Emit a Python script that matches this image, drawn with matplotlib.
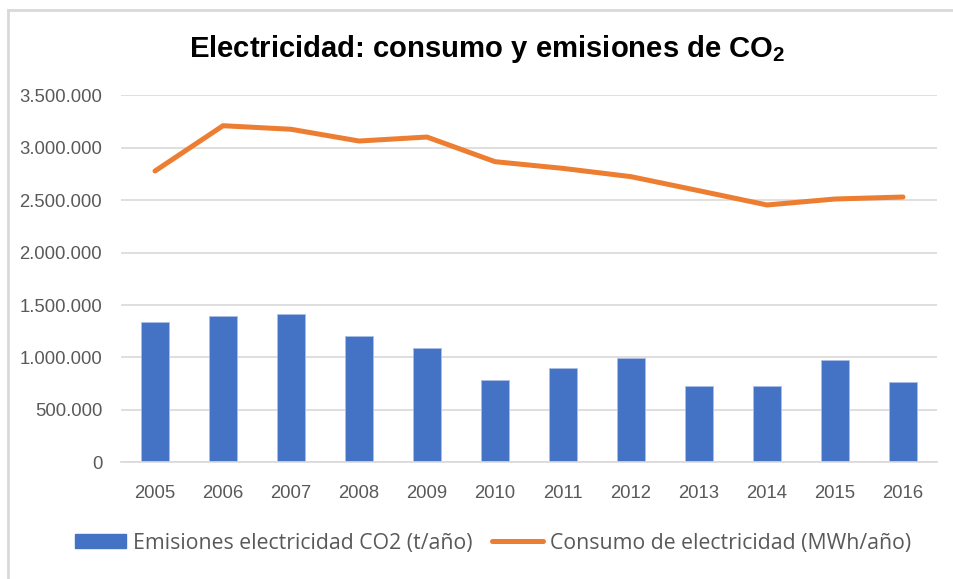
import matplotlib
matplotlib.use("Agg")
import matplotlib.pyplot as plt
from matplotlib.ticker import FuncFormatter, MultipleLocator
from matplotlib.lines import Line2D
from matplotlib.patches import Patch

years = ["2005", "2006", "2007", "2008", "2009", "2010", "2011", "2012", "2013", "2014", "2015", "2016"]
emisiones = [1338000, 1395000, 1414000, 1204000, 1090000, 785000, 902000, 998000, 730000, 730000, 979000, 769000]
consumo = [2778000, 3210000, 3176000, 3064000, 3102000, 2867000, 2803000, 2724000, 2590000, 2454000, 2511000, 2530000]

label_emis = "Emisiones electricidad CO2 (t/año)"
label_cons = "Consumo de electricidad (MWh/año)"
title = r"Electricidad: consumo y emisiones de CO$_\mathbf{2}$"

BLUE = "#4472C4"
ORANGE = "#ED7D31"
GRID = "#D9D9D9"
TXT = "#595959"

plt.rcParams["mathtext.fontset"] = "custom"
plt.rcParams["mathtext.bf"] = "Liberation Sans:bold"
plt.rcParams["mathtext.rm"] = "Liberation Sans"

fig = plt.figure(figsize=(9.54, 5.79), dpi=100)
ax = fig.add_axes([121/954, 1-462.3/579, 816/954, (462.3-95.3)/579])

x = list(range(len(years)))
ax.bar(x, emisiones, width=0.41, color=BLUE, edgecolor="#A9BEE6", linewidth=0.6, zorder=2)
ax.plot(x, consumo, color=ORANGE, linewidth=3.6, solid_capstyle="round", solid_joinstyle="round", zorder=3)

ax.set_xlim(-0.5, len(years) - 0.5)
ax.set_ylim(0, 3500000)
ax.yaxis.set_major_locator(MultipleLocator(500000))
ax.yaxis.set_major_formatter(FuncFormatter(lambda v, p: f"{int(round(v)):,}".replace(",", ".")))
ax.set_xticks(x)
ax.set_xticklabels(years)

ax.grid(axis="y", color=GRID, linewidth=1.2, zorder=0)
ax.set_axisbelow(True)
for s in ["top", "right", "left"]:
    ax.spines[s].set_visible(False)
ax.spines["bottom"].set_color(GRID)
ax.spines["bottom"].set_linewidth(1.2)
ax.tick_params(axis="both", length=0, colors=TXT)
ax.tick_params(axis="x", pad=16)
ax.tick_params(axis="y", pad=13.5)
for lab in ax.get_xticklabels() + ax.get_yticklabels():
    lab.set_fontfamily(["Liberation Sans", "DejaVu Sans"])
    lab.set_fontsize(13.3)
    lab.set_color(TXT)

fig.text(0.511, 1-57/579, title, ha="center", va="baseline", fontsize=21.1,
         fontweight="bold", family=["Liberation Sans", "DejaVu Sans"], color="black")

handles = [Patch(facecolor=BLUE, edgecolor=BLUE),
           Line2D([0], [0], color=ORANGE, linewidth=3.6, solid_capstyle="round")]
leg = fig.legend(handles, [label_emis, label_cons], loc="center", bbox_to_anchor=(0.517, 0.062),
                 ncol=2, frameon=False, handlelength=2.4, handleheight=0.6, handletextpad=0.3,
                 columnspacing=0.95, prop={"family": ["Open Sans", "DejaVu Sans"], "size": 15.3})
for t in leg.get_texts():
    t.set_color(TXT)

# chart frame (top and left edges visible)
fig.add_artist(Line2D([8.5/954, 8.5/954], [0, 1-10/579], color=GRID, linewidth=2, transform=fig.transFigure))
fig.add_artist(Line2D([8.5/954, 1], [1-10/579, 1-10/579], color=GRID, linewidth=2, transform=fig.transFigure))

fig.savefig("out.png", dpi=100)
